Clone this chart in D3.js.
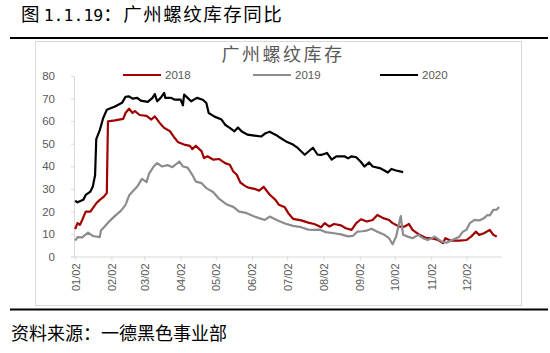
<!DOCTYPE html>
<html>
<head>
<meta charset="utf-8">
<script src="https://cdn.jsdelivr.net/npm/d3@7"></script>
<style>
  body { margin: 0; background: #fff; }
  svg { display: block; }
</style>
</head>
<body>
<svg id="chart"></svg>
<script>
// guangzhou rebar stocks, same-period comparison (10k t)
const seriesNames = ["2018", "2019", "2020"];
const seriesColors = ["#a00000", "#8c8c8c", "#000000"];

const dates2018 = ["01-02","01-04","01-06","01-08","01-11","01-15","01-18","01-20","01-23","01-26","01-29","01-30",
  "02-05","02-12","02-14","02-17","02-20","02-22","02-26","03-04","03-08","03-11","03-15","03-19","03-24","03-28",
  "03-31","04-05","04-10","04-12","04-15","04-20","04-22","04-25","04-30","05-05","05-10","05-14","05-17","05-20",
  "05-23","05-27","05-30","06-04","06-08","06-12","06-15","06-17","06-22","06-25","06-30","07-03","07-07","07-14",
  "07-20","07-25","07-28","07-31","08-03","08-07","08-11","08-17","08-21","08-26","08-30","09-03","09-08","09-13",
  "09-17","09-22","09-27","09-30","10-06","10-10","10-14","10-17","10-23","10-29","11-02","11-08","11-12","11-14",
  "11-19","11-26","12-02","12-06","12-10","12-13","12-17","12-22","12-25","12-28"];
const values2018 = [12.1,14.8,14.0,16.2,19.9,19.9,22.1,23.6,25.1,26.3,28.1,59.9,
  60.3,61.0,63.6,65.5,63.6,64.5,62.7,62.3,60.7,62.1,59.3,57.0,55.5,52.5,
  50.6,49.6,49.0,47.6,49.1,46.6,43.6,44.4,42.9,43.2,41.4,40.7,37.7,36.2,
  32.8,31.3,30.5,30.0,29.2,30.9,28.8,27.5,25.1,22.9,21.8,19.2,16.7,16.0,
  15.0,14.4,13.7,13.0,14.8,13.3,14.4,13.8,12.5,11.8,14.8,16.5,15.5,16.2,
  18.4,17.0,16.2,14.8,13.2,13.2,14.4,11.8,9.6,8.1,8.1,7.3,5.9,8.1,
  7.0,7.0,7.3,8.8,11.0,9.6,10.3,11.8,9.6,8.8];

const dates2019 = ["01-02","01-04","01-08","01-13","01-17","01-23","01-24","01-27","01-30","02-05","02-10","02-14",
  "02-17","02-20","02-24","02-28","03-04","03-06","03-10","03-13","03-17","03-22","03-26","04-01","04-04","04-08",
  "04-12","04-15","04-20","04-24","04-30","05-05","05-11","05-17","05-22","05-28","06-04","06-08","06-13","06-17",
  "06-23","06-30","07-07","07-14","07-20","07-25","07-30","08-04","08-11","08-17","08-23","08-27","08-31","09-04",
  "09-08","09-12","09-17","09-23","09-27","09-30","10-03","10-07","10-09","10-13","10-17","10-22","10-26","10-30",
  "11-05","11-11","11-15","11-20","11-26","11-29","12-02","12-05","12-09","12-13","12-17","12-20","12-22","12-25",
  "12-28","12-30"];
const values2019 = [7.0,8.6,8.5,10.6,9.1,8.6,11.5,13.2,15.0,18.0,20.2,22.9,
  27.0,28.8,31.0,34.4,33.0,36.6,39.9,41.4,39.9,40.5,39.6,42.1,39.9,39.4,
  36.2,33.2,32.5,30.3,28.5,25.5,23.2,22.0,19.9,19.3,17.7,17.0,16.2,17.7,
  16.2,14.6,13.6,13.0,11.9,11.8,11.9,10.8,10.3,9.8,8.9,9.1,11.0,11.2,
  11.5,12.3,11.0,9.6,8.1,5.4,8.8,17.9,9.6,8.8,8.1,9.6,8.1,7.3,
  8.8,6.6,6.1,7.3,8.8,11.0,11.8,14.8,16.2,16.0,17.0,18.4,18.2,20.7,
  20.8,21.9];

const dates2020 = ["01-02","01-04","01-09","01-11","01-15","01-17","01-19","01-20","01-23","01-26","01-29","02-05",
  "02-11","02-14","02-17","02-20","02-24","02-27","03-05","03-09","03-11","03-13","03-16","03-19","03-20","03-25",
  "03-28","04-02","04-04","04-05","04-08","04-11","04-16","04-21","04-24","04-26","05-01","05-07","05-10","05-14",
  "05-18","05-21","05-24","05-29","06-04","06-10","06-13","06-17","06-22","06-27","07-01","07-07","07-11","07-17",
  "07-19","07-24","07-28","07-31","08-05","08-09","08-13","08-20","08-23","08-26","08-30","09-03","09-06","09-10",
  "09-13","09-19","09-23","09-26","09-29","10-03","10-09"];
const values2020 = [24.7,24.0,25.2,27.3,28.8,30.9,36.0,52.0,56.0,61.5,65.0,66.5,
  68.1,70.8,71.0,70.0,70.3,69.1,68.5,70.3,72.0,68.8,70.3,72.5,70.3,70.3,
  69.5,69.5,67.0,71.8,70.3,68.8,70.3,69.5,68.0,63.6,62.0,60.7,58.4,57.0,
  55.5,57.2,55.5,54.0,53.6,53.2,54.5,55.3,54.0,52.3,51.0,49.6,48.1,45.1,
  46.0,48.2,45.1,45.0,45.9,42.9,44.4,44.4,43.5,44.4,44.0,41.9,39.9,41.7,
  39.9,39.2,38.1,37.2,38.8,38.1,37.4];

const yTicks = [0, 10, 20, 30, 40, 50, 60, 70, 80];
const monthTicks = ["01-02","02-02","03-02","04-02","05-02","06-02","07-02","08-02","09-02","10-02","11-02","12-02"];

const width = 550;
const height = 353;
const plot = { left: 74, right: 501.5, top: 76, bottom: 256.5 };

const svg = d3.select("#chart").attr("width", width).attr("height", height);

// every year is put on the same calendar so the lines overlap
const parseDay = d3.timeParse("%Y-%m-%d");
const toDate = md => parseDay("2019-" + md);

const x = d3.scaleTime()
  .domain([toDate("01-01"), parseDay("2020-01-01")])
  .range([plot.left, plot.right]);
const y = d3.scaleLinear().domain([0, 80]).range([plot.bottom, plot.top]);

const cjk = "'Noto Sans CJK SC', 'Noto Sans', sans-serif";
const latin = "'Liberation Sans', Arial, sans-serif";
const mono = "'DejaVu Sans Mono', 'Liberation Mono', monospace";

// page title: the figure number is set in half-width mono like the report
const title = svg.append("text")
  .attr("x", 21).attr("y", 21)
  .attr("font-family", cjk).attr("font-size", 18.5).attr("fill", "#000");
title.append("tspan").text("图 ");
title.append("tspan").attr("font-family", mono).attr("font-size", 16.5).text("1.1.19");
title.append("tspan").attr("letter-spacing", 1.5).text("：广州螺纹库存同比");

svg.append("line").attr("x1", 10).attr("x2", 548).attr("y1", 38).attr("y2", 38)
  .attr("stroke", "#000").attr("stroke-width", 2.2);
svg.append("line").attr("x1", 10).attr("x2", 548).attr("y1", 309.5).attr("y2", 309.5)
  .attr("stroke", "#000").attr("stroke-width", 2.2);

svg.append("text")
  .attr("x", 11).attr("y", 340)
  .attr("font-family", cjk).attr("font-size", 18).attr("fill", "#000")
  .text("资料来源：一德黑色事业部");

// chart frame
svg.append("rect")
  .attr("x", 35.5).attr("y", 41.5).attr("width", 486).attr("height", 264)
  .attr("fill", "#fff").attr("stroke", "#d9d9d9").attr("stroke-width", 1);

svg.append("text")
  .attr("x", 283).attr("y", 61)
  .attr("text-anchor", "middle")
  .attr("font-family", cjk).attr("font-size", 18).attr("letter-spacing", 2.5)
  .attr("fill", "#595959")
  .text("广州螺纹库存");

// axes
const yAxis = d3.axisLeft(y).tickValues(yTicks).tickSize(3).tickPadding(16);
const gy = svg.append("g").attr("transform", `translate(${plot.left},0)`).call(yAxis);
gy.select(".domain").attr("stroke", "#d9d9d9");
gy.selectAll(".tick line").attr("stroke", "#d9d9d9");
gy.selectAll(".tick text")
  .attr("font-family", latin).attr("font-size", 11.5).attr("fill", "#595959");

const xAxis = d3.axisBottom(x)
  .tickValues(monthTicks.map(toDate))
  .tickFormat(d3.timeFormat("%m/%d"))
  .tickSize(4).tickSizeOuter(0);
const gx = svg.append("g").attr("transform", `translate(0,${plot.bottom})`).call(xAxis);
gx.select(".domain").attr("stroke", "#d9d9d9");
gx.selectAll(".tick line").attr("stroke", "#d9d9d9");
gx.selectAll(".tick text")
  .attr("font-family", latin).attr("font-size", 11).attr("fill", "#595959")
  .attr("text-anchor", "end")
  .attr("transform", "rotate(-90)")
  .attr("x", -7).attr("y", 0).attr("dy", "0.35em");

// series
const series = [
  { name: seriesNames[0], color: seriesColors[0], dates: dates2018, values: values2018 },
  { name: seriesNames[1], color: seriesColors[1], dates: dates2019, values: values2019 },
  { name: seriesNames[2], color: seriesColors[2], dates: dates2020, values: values2020 }
];

const line = d3.line()
  .x(d => x(d.date))
  .y(d => y(d.value));

series.forEach(s => {
  const pts = s.dates.map((md, i) => ({ date: toDate(md), value: s.values[i] }));
  svg.append("path")
    .datum(pts)
    .attr("fill", "none")
    .attr("stroke", s.color)
    .attr("stroke-width", 2.2)
    .attr("stroke-linejoin", "round")
    .attr("d", line);
});

// legend
const legendX = [123, 253, 380];
const legend = svg.append("g");
series.forEach((s, i) => {
  legend.append("line")
    .attr("x1", legendX[i]).attr("x2", legendX[i] + 38)
    .attr("y1", 75).attr("y2", 75)
    .attr("stroke", s.color).attr("stroke-width", 2.2);
  legend.append("text")
    .attr("x", legendX[i] + 42).attr("y", 75).attr("dy", "0.35em")
    .attr("font-family", latin).attr("font-size", 11.5).attr("fill", "#595959")
    .text(s.name);
});
</script>
</body>
</html>
